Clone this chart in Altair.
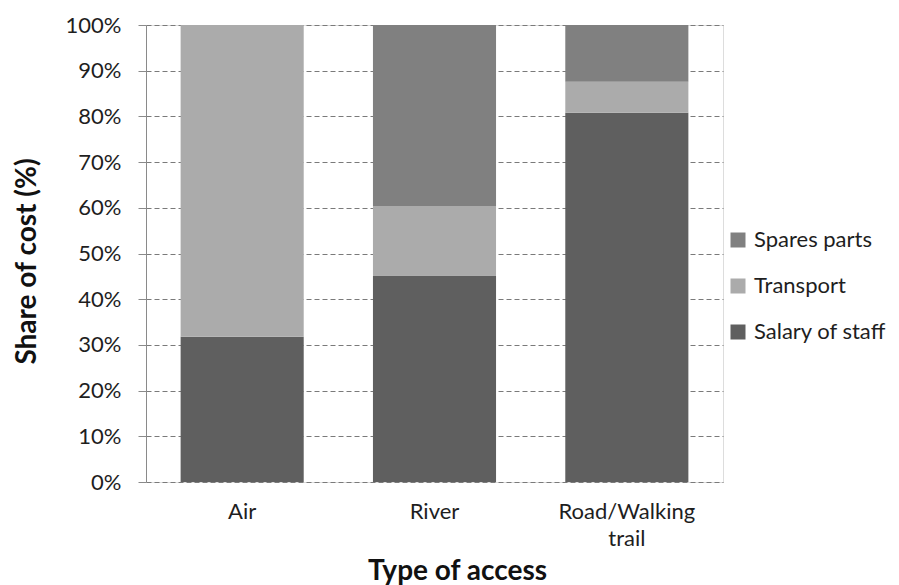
import altair as alt
import pandas as pd

# Share of maintenance cost by type of access (percent of total)
access = ["Air", "River", "Road/Walking trail"]
salary = [31.8, 45.2, 80.8]
transport = [68.2, 15.2, 6.8]
spares = [0.0, 39.6, 12.4]

components = ["Spares parts", "Transport", "Salary of staff"]
colors = ["#808080", "#ababab", "#5f5f5f"]
stack_rank = {"Salary of staff": 0, "Transport": 1, "Spares parts": 2}

rows = []
for i, a in enumerate(access):
    for comp, vals in (("Salary of staff", salary), ("Transport", transport), ("Spares parts", spares)):
        rows.append({"access": a, "component": comp, "share": vals[i] / 100.0, "rank": stack_rank[comp]})
df = pd.DataFrame(rows)

FONT = "Lato"
TEXT = "#1e1e1e"

bars = alt.Chart(df).mark_bar(stroke=None).encode(
    x=alt.X(
        "access:N",
        sort=access,
        scale=alt.Scale(paddingInner=0.36, paddingOuter=0.18),
        axis=alt.Axis(
            title="Type of access",
            labelAngle=0,
            labelExpr="datum.value == 'Road/Walking trail' ? ['Road/Walking', 'trail'] : datum.value",
            labelPadding=19,
            labelFontSize=22,
            labelLineHeight=27,
            labelColor=TEXT,
            labelFont=FONT,
            ticks=False,
            domain=False,
            titleFont=FONT,
            titleFontSize=28,
            titleFontWeight="bold",
            titleColor="#111111",
            titlePadding=8,
            titleX=311,
        ),
    ),
    y=alt.Y(
        "share:Q",
        stack="zero",
        scale=alt.Scale(domain=[0, 1], nice=False),
        axis=alt.Axis(
            title="Share of cost (%)",
            format=".0%",
            values=[i / 10 for i in range(11)],
            grid=True,
            gridDash=[5, 3],
            gridColor="#7a7a7a",
            gridWidth=1,
            tickColor="#8a8a8a",
            tickSize=8,
            domainColor="#8a8a8a",
            labelFont=FONT,
            labelFontSize=22,
            labelColor=TEXT,
            labelPadding=17,
            titleFont=FONT,
            titleFontSize=28,
            titleFontWeight="bold",
            titleColor="#111111",
            titlePadding=24,
            titleY=236,
        ),
    ),
    color=alt.Color(
        "component:N",
        scale=alt.Scale(domain=components, range=colors),
        legend=alt.Legend(
            title=None,
            orient="none",
            legendX=581,
            legendY=204,
            symbolType="square",
            symbolSize=225,
            symbolStrokeWidth=0,
            labelFont=FONT,
            labelFontSize=22,
            labelColor=TEXT,
            rowPadding=24,
            labelOffset=5,
        ),
    ),
    order=alt.Order("rank:Q", sort="ascending"),
)

chart = bars.properties(
    width=577,
    height=457,
    autosize=alt.AutoSizeParams(type="none"),
    padding={"left": 146, "top": 25, "right": 176, "bottom": 103},
).configure_view(
    stroke="#8a8a8a",
    strokeWidth=1,
).configure(background="white")

chart.save("out.html", embed_options={"renderer": "svg", "actions": False})
